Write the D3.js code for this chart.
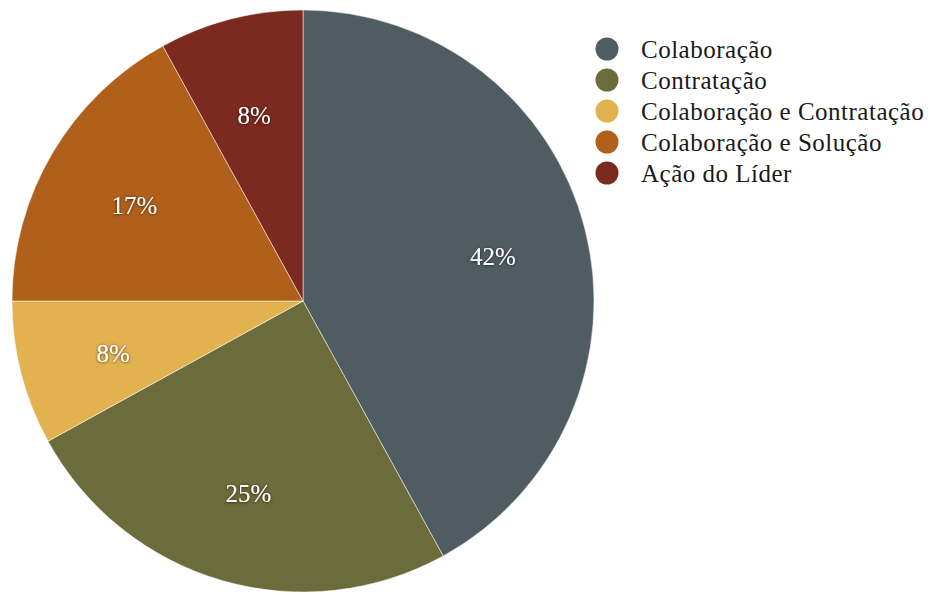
<!DOCTYPE html>
<html>
<head>
<meta charset="utf-8">
<script src="https://cdn.jsdelivr.net/npm/d3@7"></script>
<style>
  html, body { margin: 0; padding: 0; background: #ffffff; }
  svg { display: block; }
</style>
</head>
<body>
<svg id="chart" width="930" height="595"></svg>
<script>
// Share of responses by category (percent)
const categories = ["Colaboração", "Contratação", "Colaboração e Contratação", "Colaboração e Solução", "Ação do Líder"];
const values = [42, 25, 8, 17, 8];
const colors = ["#4f5d63", "#6c6b3b", "#e3b250", "#b1601b", "#7c2a20"];

const fontStack = "'Liberation Serif', 'Times New Roman', Times, 'DejaVu Serif', serif";

const svg = d3.select("#chart");
const cx = 303, cy = 301, radius = 291;

// soft dark glow behind the slice labels
const defs = svg.append("defs");
const glow = defs.append("filter").attr("id", "glow")
  .attr("x", "-20%").attr("y", "-30%").attr("width", "140%").attr("height", "160%");
glow.append("feDropShadow").attr("dx", 0).attr("dy", 0.5)
  .attr("stdDeviation", 1.8).attr("flood-color", "#000").attr("flood-opacity", 0.7);

const color = d3.scaleOrdinal().domain(categories).range(colors);

const pie = d3.pie().sort(null).value(d => d.value);
const arcs = pie(categories.map((c, i) => ({ name: c, value: values[i] })));

const arc = d3.arc().innerRadius(0).outerRadius(radius);
const labelArc = d3.arc().innerRadius(196).outerRadius(196);

const g = svg.append("g").attr("transform", `translate(${cx},${cy})`);

g.selectAll("path.slice")
  .data(arcs)
  .join("path")
  .attr("class", "slice")
  .attr("d", arc)
  .attr("fill", d => color(d.data.name))
  .attr("stroke", "#ffffff")
  .attr("stroke-opacity", 0.5)
  .attr("stroke-width", 1);

g.selectAll("text.pct")
  .data(arcs)
  .join("text")
  .attr("class", "pct")
  .attr("transform", d => `translate(${labelArc.centroid(d)})`)
  .attr("dy", "0.5em")
  .attr("text-anchor", "middle")
  .attr("font-family", fontStack)
  .attr("font-size", 25)
  .attr("fill", "#ffffff")
  .attr("filter", "url(#glow)")
  .text(d => d.data.value + "%");

// Legend
const legend = svg.append("g").attr("transform", "translate(607,49)");
const row = legend.selectAll("g.item")
  .data(categories)
  .join("g")
  .attr("class", "item")
  .attr("transform", (d, i) => `translate(0,${i * 31})`);

row.append("circle")
  .attr("r", 11.5)
  .attr("fill", d => color(d));

row.append("text")
  .attr("x", 34)
  .attr("y", 9)
  .attr("font-family", fontStack)
  .attr("font-size", 25)
  .attr("letter-spacing", 0.5)
  .attr("fill", "#1a1a1a")
  .text(d => d);
</script>
</body>
</html>
